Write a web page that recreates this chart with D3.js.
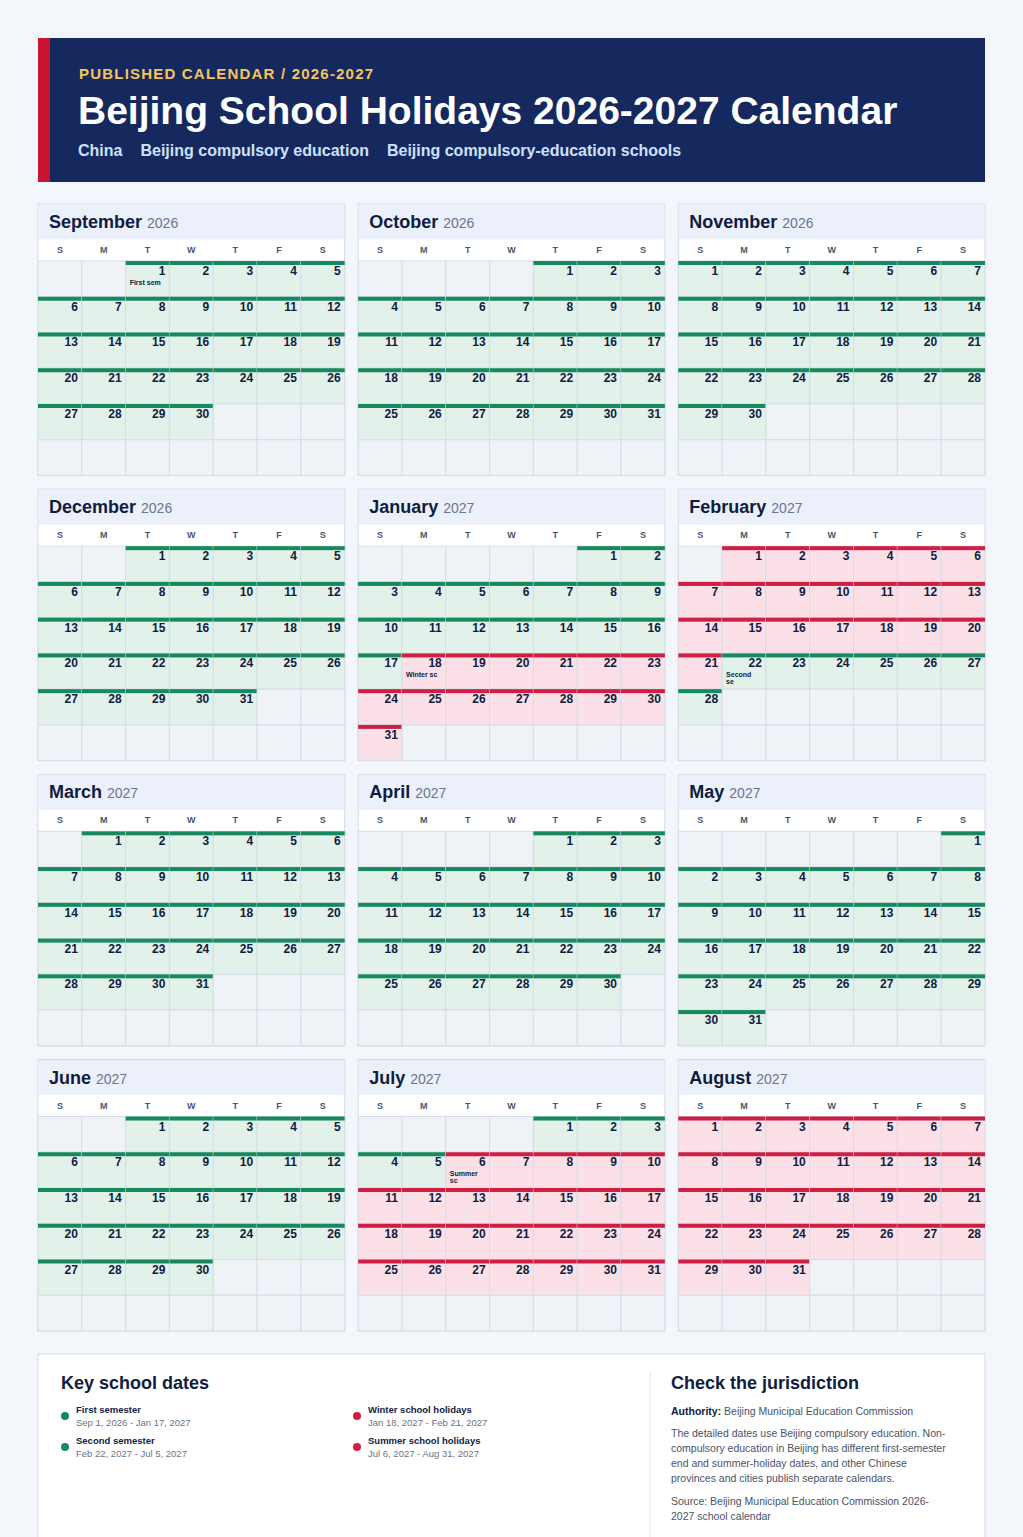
<!DOCTYPE html>
<html><head><meta charset="utf-8">
<script src="https://cdn.jsdelivr.net/npm/d3@7"></script>
<style>body{margin:0;background:#f3f6fb;font-family:"Liberation Sans",Arial,sans-serif}</style>
</head><body><svg id="c" width="1023" height="1537"></svg>
<script>
const months = [[2026,8],[2026,9],[2026,10],[2026,11],[2027,0],[2027,1],[2027,2],[2027,3],[2027,4],[2027,5],[2027,6],[2027,7]];
const monthNames = ["January","February","March","April","May","June","July","August","September","October","November","December"];
const weekdays = ["S","M","T","W","T","F","S"];
const periods = [
 {name:"First semester", start:"2026-09-01", end:"2027-01-17", type:"school", label:"First sem", range:"Sep 1, 2026 - Jan 17, 2027"},
 {name:"Winter school holidays", start:"2027-01-18", end:"2027-02-21", type:"holiday", label:"Winter sc", range:"Jan 18, 2027 - Feb 21, 2027"},
 {name:"Second semester", start:"2027-02-22", end:"2027-07-05", type:"school", label:"Second se", range:"Feb 22, 2027 - Jul 5, 2027"},
 {name:"Summer school holidays", start:"2027-07-06", end:"2027-08-31", type:"holiday", label:"Summer sc", range:"Jul 6, 2027 - Aug 31, 2027"}
];
const legendOrder = [0,2,1,3];
const col = {school:{fill:"#e2f1e9",bar:"#168a5e"}, holiday:{fill:"#fbe1e7",bar:"#cf1e43"}};
const svg = d3.select("#c");
const ink="#0f1c3f";
svg.append("rect").attr("x",38).attr("y",38).attr("width",947).attr("height",144).attr("fill","#15295e");
svg.append("rect").attr("x",38).attr("y",38).attr("width",12).attr("height",144).attr("fill","#c8152f");
svg.append("text").attr("x",79).attr("y",79).attr("fill","#f5c55a").attr("font-size",15).attr("font-weight",700).attr("letter-spacing",1.2).text("PUBLISHED CALENDAR / 2026-2027");
svg.append("text").attr("x",78).attr("y",124).attr("fill","#fff").attr("font-size",39).attr("font-weight",700).text("Beijing School Holidays 2026-2027 Calendar");
const tags=["China","Beijing compulsory education","Beijing compulsory-education schools"];
let tx=78;
tags.forEach(t=>{const e=svg.append("text").attr("x",tx).attr("y",156).attr("fill","#cfe0ff").attr("font-size",16).attr("font-weight",700).text(t);tx+=e.node().getComputedTextLength()+18;});

function fmt(d){return d3.timeFormat("%Y-%m-%d")(d);}
function periodOf(d){const s=fmt(d);return periods.find(p=>s>=p.start&&s<=p.end);}
const panelX=d3.scaleBand().domain([0,1,2]).range([38,985]).paddingInner(0.042);
const panelY=d3.scaleBand().domain([0,1,2,3]).range([204,1331]).paddingInner(0.048);
months.forEach((m,i)=>{
  const px=panelX(i%3), py=panelY(Math.floor(i/3)), pw=panelX.bandwidth(), ph=panelY.bandwidth();
  const g=svg.append("g").attr("transform",`translate(${px},${py})`);
  g.append("rect").attr("width",pw).attr("height",ph).attr("fill","#fff").attr("stroke","#d3dae6");
  g.append("rect").attr("x",0.5).attr("y",0.5).attr("width",pw-1).attr("height",35).attr("fill","#ebf0fb");
  const t=g.append("text").attr("x",11).attr("y",24).attr("fill",ink).attr("font-size",18).attr("font-weight",700);
  t.append("tspan").text(monthNames[m[1]]);
  t.append("tspan").attr("fill","#6a7590").attr("font-size",14).attr("font-weight",400).attr("dx",5).text(m[0]);
  const x=d3.scaleBand().domain(d3.range(7)).range([0,pw]);
  const y=d3.scaleBand().domain(d3.range(6)).range([57,ph]);
  g.selectAll(".wd").data(weekdays).join("text").attr("x",(d,j)=>x(j)+x.bandwidth()/2).attr("y",49).attr("text-anchor","middle").attr("font-size",9).attr("font-weight",700).attr("fill","#4a5470").text(d=>d);
  const first=new Date(m[0],m[1],1), n=new Date(m[0],m[1]+1,0).getDate(), off=first.getDay();
  const cells=d3.range(42).map(k=>{const dn=k-off+1;return {k,d:(dn>=1&&dn<=n)?new Date(m[0],m[1],dn):null};});
  const c=g.selectAll(".cell").data(cells).join("g").attr("transform",d=>`translate(${x(d.k%7)},${y(Math.floor(d.k/7))})`);
  c.append("rect").attr("width",x.bandwidth()).attr("height",y.bandwidth()).attr("fill",d=>{if(!d.d)return "#eff2f7";const p=periodOf(d.d);return p?col[p.type].fill:"#eff2f7";}).attr("stroke","#d6dde8").attr("stroke-width",1);
  c.filter(d=>d.d&&periodOf(d.d)).append("rect").attr("width",x.bandwidth()).attr("height",4).attr("fill",d=>col[periodOf(d.d).type].bar);
  c.filter(d=>d.d).append("text").attr("x",x.bandwidth()-4).attr("y",14).attr("text-anchor","end").attr("font-size",12).attr("font-weight",700).attr("fill",ink).text(d=>d.d.getDate());
  c.filter(d=>d.d&&periods.some(p=>p.start===fmt(d.d))).each(function(d){
    const p=periods.find(p=>p.start===fmt(d.d)); const s=d3.select(this);
    const parts=p.label==="First sem"||p.label==="Winter sc"?[p.label]:[p.label.split(" ")[0],p.label.split(" ")[1]];
    parts.forEach((w,j)=>s.append("text").attr("x",4).attr("y",24+j*7).attr("font-size",7).attr("font-weight",700).attr("fill",ink).text(w));
  });
});
svg.append("rect").attr("x",38).attr("y",1354).attr("width",947).attr("height",200).attr("fill","#fff").attr("stroke","#d3dae6");
svg.append("line").attr("x1",650).attr("x2",650).attr("y1",1372).attr("y2",1537).attr("stroke","#dde3ec");
svg.append("text").attr("x",61).attr("y",1389).attr("font-size",18).attr("font-weight",700).attr("fill",ink).text("Key school dates");
const lx=d3.scaleBand().domain([0,1]).range([61,645]);
legendOrder.forEach((pi,k)=>{
  const p=periods[pi], gx=lx(Math.floor(k/2)), gy=1413+(k%2)*31;
  svg.append("circle").attr("cx",gx+4).attr("cy",gy+3).attr("r",4).attr("fill",col[p.type].bar);
  svg.append("text").attr("x",gx+15).attr("y",gy).attr("font-size",9.5).attr("font-weight",700).attr("fill",ink).text(p.name);
  svg.append("text").attr("x",gx+15).attr("y",gy+13).attr("font-size",9.5).attr("fill","#6b7385").text(p.range);
});
svg.append("text").attr("x",671).attr("y",1389).attr("font-size",18).attr("font-weight",700).attr("fill",ink).text("Check the jurisdiction");
const a=svg.append("text").attr("x",671).attr("y",1415).attr("font-size",10.5).attr("fill","#4a5266");
a.append("tspan").attr("font-weight",700).attr("fill",ink).text("Authority:");a.append("tspan").text(" Beijing Municipal Education Commission");
const body=["The detailed dates use Beijing compulsory education. Non-","compulsory education in Beijing has different first-semester","end and summer-holiday dates, and other Chinese","provinces and cities publish separate calendars."];
body.forEach((l,i)=>svg.append("text").attr("x",671).attr("y",1437+i*15).attr("font-size",10.5).attr("fill","#4a5266").text(l));
["Source: Beijing Municipal Education Commission 2026-","2027 school calendar"].forEach((l,i)=>svg.append("text").attr("x",671).attr("y",1505+i*15).attr("font-size",10.5).attr("fill","#4a5266").text(l));
</script></body></html>
